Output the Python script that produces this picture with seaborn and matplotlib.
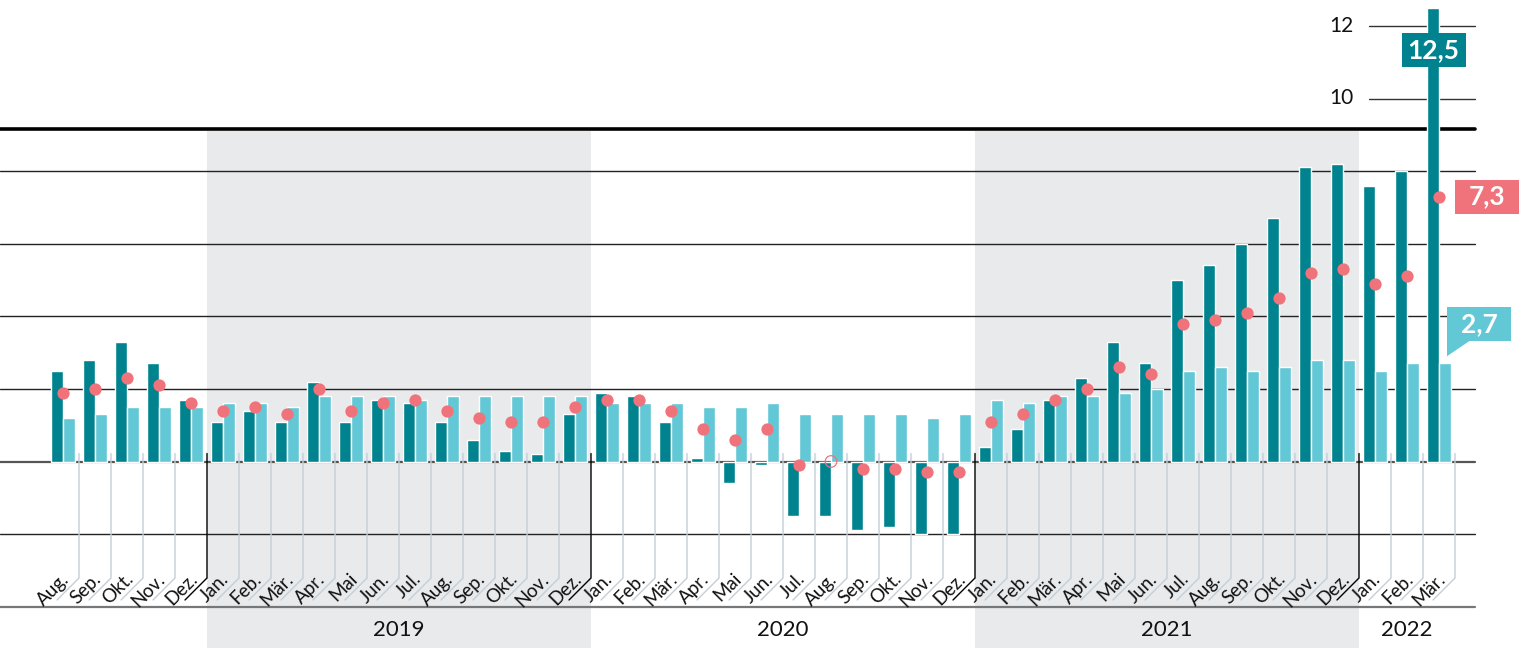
import pandas as pd
import matplotlib.pyplot as plt
from matplotlib.patches import Rectangle, Polygon
import seaborn as sns


# Monthly data, Aug 2018 - Mar 2022 (rate vs. previous year, in %)
# -----------------------------------------------------------------
month_names = ["Jan.", "Feb.", "Mär.", "Apr.", "Mai", "Jun.",
               "Jul.", "Aug.", "Sep.", "Okt.", "Nov.", "Dez."]
month_labels = month_names[7:] + month_names * 3 + month_names[:3]
month_years = [2018] * 5 + [2019] * 12 + [2020] * 12 + [2021] * 12 + [2022] * 3

goods = [2.5, 2.8, 3.3, 2.7, 1.7,
         1.1, 1.4, 1.1, 2.2, 1.1, 1.7, 1.6, 1.1, 0.6, 0.3, 0.2, 1.3,
         1.9, 1.8, 1.1, 0.1, -0.6, -0.1, -1.5, -1.5, -1.9, -1.8, -2.0, -2.0,
         0.4, 0.9, 1.7, 2.3, 3.3, 2.7, 5.0, 5.4, 6.0, 6.7, 8.1, 8.2,
         7.6, 8.0, 12.5]
services = [1.2, 1.3, 1.5, 1.5, 1.5,
            1.6, 1.6, 1.5, 1.8, 1.8, 1.8, 1.7, 1.8, 1.8, 1.8, 1.8, 1.8,
            1.6, 1.6, 1.6, 1.5, 1.5, 1.6, 1.3, 1.3, 1.3, 1.3, 1.2, 1.3,
            1.7, 1.6, 1.8, 1.8, 1.9, 2.0, 2.5, 2.6, 2.5, 2.6, 2.8, 2.8,
            2.5, 2.7, 2.7]
overall = [1.9, 2.0, 2.3, 2.1, 1.6,
           1.4, 1.5, 1.3, 2.0, 1.4, 1.6, 1.7, 1.4, 1.2, 1.1, 1.1, 1.5,
           1.7, 1.7, 1.4, 0.9, 0.6, 0.9, -0.1, 0.0, -0.2, -0.2, -0.3, -0.3,
           1.1, 1.3, 1.7, 2.0, 2.6, 2.4, 3.8, 3.9, 4.1, 4.5, 5.2, 5.3,
           4.9, 5.1, 7.3]

grid_values = [-2, 0, 2, 4, 6, 8]
top_ticks = [10, 12]
shaded_years = [2019, 2021]
labelled_years = [2019, 2020, 2021, 2022]

DARK = "#00838F"
LIGHT = "#63C8D6"
PINK = "#F0727A"
SHADE = "#E9EAEC"
SEP = "#C3CED8"

sns.set_style("white")
plt.rcParams["font.family"] = ["Lato", "DejaVu Sans"]

n = len(month_labels)
keys = [f"{y}-{i:02d}" for i, y in enumerate(month_years)]
df = pd.DataFrame({
    "key": keys * 2,
    "value": goods + services,
    "series": ["goods"] * n + ["services"] * n,
})

fig = plt.figure(figsize=(15.25, 6.48), dpi=100)
ax = fig.add_axes([0, 0, 1, 1])

sns.barplot(data=df, x="key", y="value", hue="series", order=keys,
            hue_order=["goods", "services"], palette=[DARK, LIGHT],
            width=0.72, gap=0, saturation=1, errorbar=None, legend=False,
            ax=ax, zorder=3)

# pixel -> data helpers (32 px per month, 36.3 px per percentage point)
PX, PY = 32.0, 36.3
x_lo, x_hi = -63 / PX, (1525 - 63) / PX
y_hi, y_lo = 461.5 / PY, (461.5 - 648) / PY
x_end = (1475 - 63) / PX

# shaded years
for yr in shaded_years:
    idx = [i for i, y in enumerate(month_years) if y == yr]
    ax.add_patch(Rectangle((idx[0] - 0.5, y_lo), len(idx), 9.1 - y_lo,
                           fc=SHADE, ec="none", zorder=0))

# grid lines
for g in grid_values:
    ax.plot([x_lo, x_end], [g, g], color="#555555" if g == 0 else "#222222",
            lw=1.6 if g == 0 else 1.0, zorder=1)
for g in top_ticks:
    ax.plot([(1369 - 63) / PX, x_end], [g, g], color="#333333", lw=1.0, zorder=1)
    ax.text((1354 - 63) / PX, g, str(g), ha="right", va="center",
            fontsize=15, color="#111111")
ax.plot([x_lo, x_end], [9.15, 9.15], color="black", lw=2.6, zorder=1)

# month separators with slanted label guides
v_top, v_bot = 8 / PY, -(578 - 461.5) / PY
v_diag = -(600 - 461.5) / PY
for i in range(n):
    xb = i + 0.5
    col = "black" if month_labels[i] == "Dez." else SEP
    ax.plot([xb, xb, xb - 22 / PX], [v_top, v_bot, v_diag], color=col,
            lw=1.0, zorder=1.5, solid_joinstyle="miter")
    ax.text(xb - 9 / PX, -(580 - 461.5) / PY, month_labels[i], rotation=45,
            rotation_mode="anchor", ha="right", va="baseline",
            fontsize=13.5, color="#111111")

# bottom rule and year labels
ax.plot([x_lo, x_end], [-(606.5 - 461.5) / PY] * 2, color="#777777",
        lw=1.6, zorder=1)
for yr in labelled_years:
    idx = [i for i, y in enumerate(month_years) if y == yr]
    ax.text((idx[0] + idx[-1]) / 2, -(630 - 461.5) / PY, str(yr),
            ha="center", va="center", fontsize=16, color="#111111")

# overall rate as dots (zero drawn hollow)
pos = list(range(n))
filled = [(p, v) for p, v in zip(pos, overall) if v != 0]
hollow = [(p, v) for p, v in zip(pos, overall) if v == 0]
sns.scatterplot(x=[p for p, _ in filled], y=[v for _, v in filled],
                color=PINK, s=78, linewidth=0, ax=ax, zorder=4)
ax.scatter([p for p, _ in hollow], [v for _, v in hollow], s=70,
           facecolors="none", edgecolors=PINK, linewidths=0.9, zorder=4)


def fmt(v):
    return f"{v:.1f}".replace(".", ",")


bw, bh = 64 / PX, 34 / PY
last = n - 1
# goods label
cx, cy = last - 0.17, 11.34
ax.add_patch(Rectangle((cx - bw / 2, cy - bh / 2), bw, bh, fc=DARK, ec="none", zorder=5))
ax.text(cx, cy, fmt(goods[-1]), ha="center", va="center", color="white",
        fontsize=19, fontweight="bold", zorder=6)
# overall label
lx = last + 0.5
ax.add_patch(Rectangle((lx, overall[-1] - bh / 2), bw, bh, fc=PINK, ec="none", zorder=5))
ax.text(lx + bw / 2, overall[-1], fmt(overall[-1]), ha="center", va="center",
        color="white", fontsize=19, fontweight="bold", zorder=6)
# services label with tail
sx, sb = last + 0.25, services[-1] + 0.62
ax.add_patch(Rectangle((sx, sb), bw, bh, fc=LIGHT, ec="none", zorder=5))
ax.add_patch(Polygon([(sx, sb + 0.01), (sx + 23 / PX, sb + 0.01),
                      (sx, services[-1] + 0.2)], closed=True,
                     fc=LIGHT, ec="none", zorder=5))
ax.text(sx + bw / 2, sb + bh / 2, fmt(services[-1]), ha="center", va="center",
        color="white", fontsize=19, fontweight="bold", zorder=6)

ax.set_xlim(x_lo, x_hi)
ax.set_ylim(y_lo, y_hi)
ax.set_axis_off()

fig.savefig("out.png", dpi=100, facecolor="white")
